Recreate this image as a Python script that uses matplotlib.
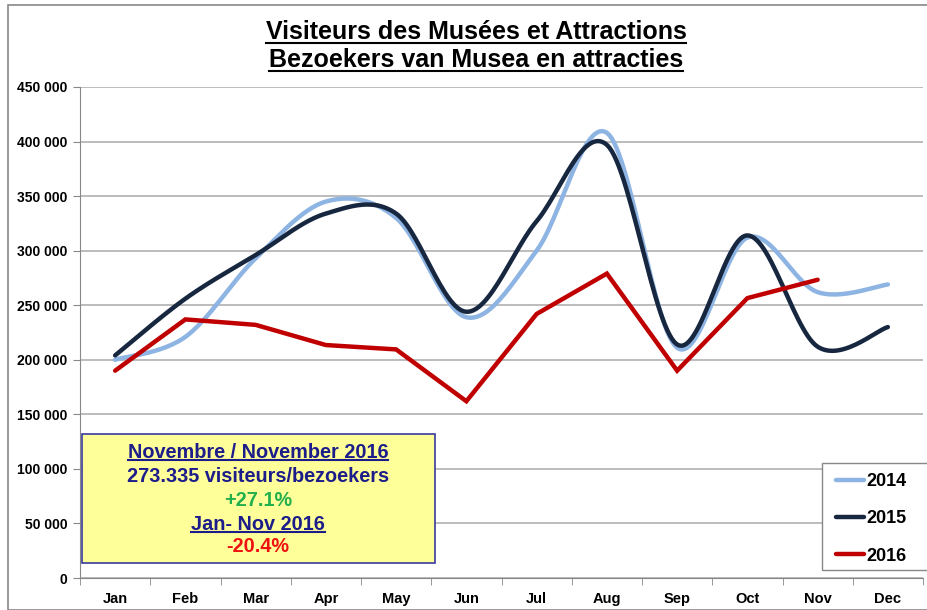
import matplotlib.pyplot as plt
from matplotlib.lines import Line2D
from matplotlib.patches import Rectangle
import numpy as np

months = ['Jan', 'Feb', 'Mar', 'Apr', 'May', 'Jun', 'Jul', 'Aug', 'Sep', 'Oct', 'Nov', 'Dec']
v2014 = [200000, 221000, 293000, 345000, 330000, 239000, 300000, 408000, 211000, 312000, 262000, 269000]
v2015 = [204000, 256000, 296000, 334000, 334000, 244000, 327000, 397000, 214000, 314000, 212000, 230000]
v2016 = [190000, 237000, 232000, 213500, 209500, 162000, 242000, 279000, 190000, 256500, 273335]

yticks = np.arange(0, 450001, 50000)
ytick_labels = ['0' if t == 0 else f'{t:,}'.replace(',', ' ') for t in yticks]

box_lines = ['Novembre / November 2016', '273.335 visiteurs/bezoekers', '+27.1%',
             'Jan- Nov 2016', '-20.4%']
box_colors = ['#1c1c8a', '#1c1c8a', '#22b04c', '#1c1c8a', '#ee1111']
box_under = [True, False, False, True, False]


def smooth(y, n=30):
    # excel-like smoothed line (cardinal spline, bezier control points)
    y = np.asarray(y, float)
    x = np.arange(len(y), dtype=float)
    px, py = [], []
    for i in range(len(y) - 1):
        x0, y0 = (x[i - 1], y[i - 1]) if i > 0 else (x[i], y[i])
        x3, y3 = (x[i + 2], y[i + 2]) if i + 2 < len(y) else (x[i + 1], y[i + 1])
        c1x = x[i] + (x[i + 1] - x0) / 6
        c1y = y[i] + (y[i + 1] - y0) / 6
        c2x = x[i + 1] - (x3 - x[i]) / 6
        c2y = y[i + 1] - (y3 - y[i]) / 6
        t = np.linspace(0, 1, n)
        a, b, c, d = (1 - t) ** 3, 3 * t * (1 - t) ** 2, 3 * t ** 2 * (1 - t), t ** 3
        px.extend(a * x[i] + b * c1x + c * c2x + d * x[i + 1])
        py.extend(a * y[i] + b * c1y + c * c2y + d * y[i + 1])
    return np.array(px), np.array(py)


plt.rcParams['font.family'] = ['Liberation Sans', 'DejaVu Sans']

fig = plt.figure(figsize=(9.28, 6.10), dpi=100)
fig.patches.append(Rectangle((8 / 928, 0), 1, 1 - 5 / 610, transform=fig.transFigure,
                             fill=False, ec='#888888', lw=1.2))

ax = fig.add_axes([80 / 928, 32 / 610, 843 / 928, 491 / 610])
ax.set_xlim(-0.5, 11.5)
ax.set_ylim(0, 450000)

x14, y14 = smooth(v2014)
x15, y15 = smooth(v2015)
ax.plot(x14, y14, color='#8db4e2', lw=3.2, solid_capstyle='round', label='2014')
ax.plot(x15, y15, color='#17273f', lw=3.2, solid_capstyle='round', label='2015')
ax.plot(np.arange(len(v2016)), v2016, color='#c00000', lw=3.2, solid_capstyle='round',
        solid_joinstyle='miter', label='2016')

ax.set_yticks(yticks)
ax.set_yticklabels(ytick_labels, fontsize=10, fontweight='bold')
ax.set_xticks(np.arange(12))
ax.set_xticklabels(months, fontsize=10.5, fontweight='bold')
ax.set_xticks(np.arange(-0.5, 12, 1), minor=True)
ax.tick_params(axis='x', which='major', length=0, pad=10)
ax.tick_params(axis='x', which='minor', length=5, color='#888888')
ax.tick_params(axis='y', length=5, color='#888888', pad=4)
ax.grid(axis='y', color='#b0b0b0', lw=1.2)
ax.set_axisbelow(True)
for s in ['top', 'right']:
    ax.spines[s].set_visible(False)
ax.spines['left'].set_color('#888888')
ax.spines['bottom'].set_color('#888888')

# legend frame drawn separately (it runs off the right edge)
fig.patches.append(Rectangle((822 / 928, 1 - 570 / 610), 120 / 928, 107 / 610,
                             transform=fig.transFigure, fc='white', ec='#888888', lw=1.0))
leg = fig.legend(*ax.get_legend_handles_labels(), loc='upper left',
                 bbox_to_anchor=(836 / 928, 1 - 473 / 610), frameon=False,
                 prop={'weight': 'bold', 'size': 13}, handlelength=1.55, handletextpad=0.12,
                 labelspacing=1.13, borderpad=0, borderaxespad=0)

# info box
fig.patches.append(Rectangle((82 / 928, 1 - 563 / 610), 353 / 928, 129 / 610,
                             transform=fig.transFigure, fc='#ffff99', ec='#3a3aa0', lw=1.2))

texts = []
title1 = fig.text(476 / 928, 1 - 32 / 610, 'Visiteurs des Musées et Attractions', ha='center',
                  va='center', fontsize=18, fontweight='bold')
title2 = fig.text(476 / 928, 1 - 60 / 610, 'Bezoekers van Musea en attracties', ha='center',
                  va='center', fontsize=18, fontweight='bold')
texts.append((title1, 'black'))
texts.append((title2, 'black'))

ys = [452, 477, 500, 524, 547]
for line, col, und, yy in zip(box_lines, box_colors, box_under, ys):
    t = fig.text(258 / 928, 1 - yy / 610, line, ha='center', va='center', color=col,
                 fontsize=14.3, fontweight='bold')
    if und:
        texts.append((t, col))

fig.canvas.draw()
r = fig.canvas.get_renderer()
for t, col in texts:
    bb = t.get_window_extent(r)
    yline = bb.y0 + 1.5
    fig.lines.append(Line2D([bb.x0 / 928, bb.x1 / 928], [yline / 610, yline / 610],
                            transform=fig.transFigure, color=col, lw=1.5))

fig.savefig('out.png', dpi=100)
